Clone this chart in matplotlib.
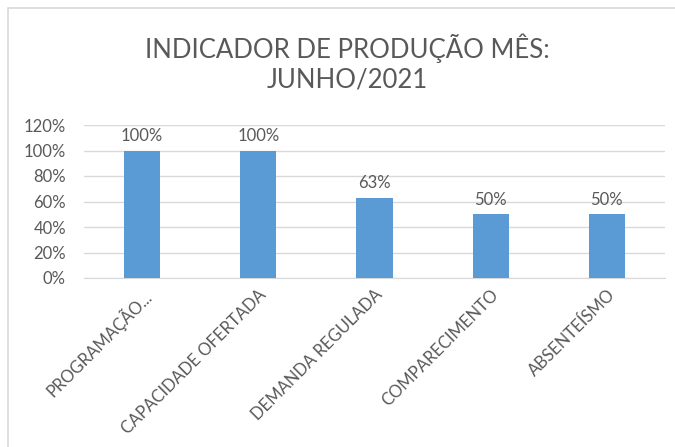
import matplotlib

matplotlib.use("Agg")
import matplotlib.pyplot as plt
from matplotlib.patches import Rectangle

CATEGORIAS = ["PROGRAMAÇÃO...", "CAPACIDADE OFERTADA", "DEMANDA REGULADA",
              "COMPARECIMENTO", "ABSENTEÍSMO"]
VALORES = [100, 100, 63, 50, 50]
TICKS_Y = [0, 20, 40, 60, 80, 100, 120]

plt.rcParams["font.family"] = ["Lato", "DejaVu Sans"]
TXT = "#595959"

fig = plt.figure(figsize=(6.75, 4.47), dpi=100)
fig.patches.append(Rectangle((8 / 675, -0.1), 1.1, 1 - 8 / 447 + 0.1,
                             transform=fig.transFigure, fill=False,
                             edgecolor="#d9d9d9", linewidth=1.2))

ax = fig.add_axes([84 / 675, 1 - 278 / 447, 581 / 675, 153 / 447])
x = range(len(CATEGORIAS))
ax.bar(x, VALORES, width=0.31, color="#5b9bd5", zorder=3)
for xi, v in zip(x, VALORES):
    ax.text(xi, v + 5, f"{v}%", ha="center", va="bottom", fontsize=12, color=TXT)

ax.set_xlim(-0.5, len(CATEGORIAS) - 0.5)
ax.set_ylim(0, 120)
ax.set_yticks(TICKS_Y)
ax.set_yticklabels([f"{t}%" for t in TICKS_Y], fontsize=12, color=TXT)
ax.yaxis.grid(True, color="#d9d9d9", linewidth=1, zorder=0)
ax.set_xticks(list(x))
ax.set_xticklabels(CATEGORIAS, rotation=45, ha="right", rotation_mode="anchor",
                   fontsize=12, color=TXT)
ax.tick_params(length=0)
ax.tick_params(axis="y", pad=13)
ax.tick_params(axis="x", pad=6)
for s in ["top", "right", "left"]:
    ax.spines[s].set_visible(False)
ax.spines["bottom"].set_color("#d9d9d9")

fig.text(347 / 675, 1 - 48 / 447, "INDICADOR DE PRODUÇÃO MÊS:", ha="center",
         va="center", fontsize=18.5, color=TXT)
fig.text(347 / 675, 1 - 80 / 447, "JUNHO/2021", ha="center",
         va="center", fontsize=18.5, color=TXT)

fig.savefig("out.png", dpi=100)
plt.close(fig)
